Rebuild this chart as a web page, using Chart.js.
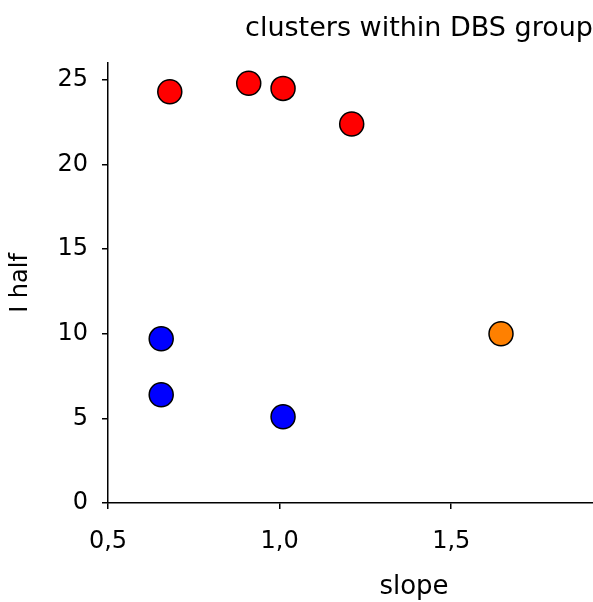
<!DOCTYPE html>
<html>
<head>
<meta charset="utf-8">
<script src="https://cdn.jsdelivr.net/npm/chart.js@4/dist/chart.umd.min.js"></script>
<style>
    body { margin: 0; background: #fff; }
    canvas { display: block; }
</style>
</head>
<body>
<canvas id="scatter" width="593" height="602"></canvas>
<script>
// clusters (slope, I half)
const redSlope = [0.68, 0.91, 1.01, 1.21];
const redHalf = [24.3, 24.8, 24.5, 22.4];
const blueSlope = [0.655, 0.655, 1.01];
const blueHalf = [9.7, 6.4, 5.1];
const orangeSlope = [1.645];
const orangeHalf = [10.0];

const xTicks = [0.5, 1.0, 1.5];
const yTicks = [0, 5, 10, 15, 20, 25];

const font = 'DejaVu Sans';

class clusterChart {

    constructor() {
        this.createGraph();
    }

    points(xs, ys) {
        return xs.map((x, i) => {
            return {x: x, y: ys[i]};
        });
    }

    dataset(xs, ys, color) {
        return {
            data: this.points(xs, ys),
            backgroundColor: color,
            borderColor: '#000',
            borderWidth: 1.5,
            pointRadius: 12,
            pointHoverRadius: 12
        };
    }

    createGraph() {
        let ctx = document.getElementById('scatter').getContext('2d');

        // x axis title sits right of the plot centre in the original
        const slopeLabel = {
            id: 'slopeLabel',
            afterDraw: (chart) => {
                let c = chart.ctx;
                c.save();
                c.font = '26px "' + font + '"';
                c.fillStyle = '#000';
                c.textAlign = 'center';
                c.textBaseline = 'middle';
                c.fillText('slope', 414, 587);
                c.restore();
            }
        };

        new Chart(ctx, {
            type: 'scatter',
            data: {
                datasets: [
                    this.dataset(redSlope, redHalf, '#ff0000'),
                    this.dataset(blueSlope, blueHalf, '#0000ff'),
                    this.dataset(orangeSlope, orangeHalf, '#ff8000')
                ]
            },
            options: {
                responsive: false,
                animation: false,
                layout: {padding: 0, autoPadding: false},
                plugins: {
                    legend: {display: false},
                    tooltip: {enabled: false},
                    title: {
                        display: true,
                        text: 'clusters within DBS group',
                        align: 'end',
                        color: '#000',
                        font: {family: font, size: 27, weight: 'normal', lineHeight: 1.2},
                        padding: {top: 13, bottom: 17.6}
                    }
                },
                scales: {
                    x: {
                        type: 'linear',
                        min: 0.5,
                        max: 1.913,
                        afterBuildTicks: (scale) => {
                            scale.ticks = xTicks.map((v) => ({value: v}));
                        },
                        afterFit: (scale) => {
                            scale.height = 99;
                            scale.paddingLeft = 0;
                            scale.paddingRight = 0;
                        },
                        border: {display: true, color: '#000', width: 1.5},
                        grid: {drawOnChartArea: false, drawTicks: true, tickLength: 6, color: '#000', lineWidth: 1.5},
                        ticks: {
                            color: '#000',
                            padding: 18,
                            font: {family: font, size: 24},
                            callback: (v) => v.toFixed(1).replace('.', ',')
                        }
                    },
                    y: {
                        type: 'linear',
                        min: 0,
                        max: 26,
                        afterBuildTicks: (scale) => {
                            scale.ticks = yTicks.map((v) => ({value: v}));
                        },
                        afterFit: (scale) => {
                            scale.width = 108;
                            scale.paddingTop = 0;
                            scale.paddingBottom = 0;
                        },
                        border: {display: true, color: '#000', width: 1.5},
                        grid: {drawOnChartArea: false, drawTicks: true, tickLength: 6, color: '#000', lineWidth: 1.5},
                        ticks: {
                            color: '#000',
                            padding: 14,
                            font: {family: font, size: 24}
                        },
                        title: {
                            display: true,
                            text: 'I half',
                            color: '#000',
                            font: {family: font, size: 24, lineHeight: 1.2},
                            padding: {top: 6, bottom: 0}
                        }
                    }
                }
            },
            plugins: [slopeLabel]
        });
    }
}

new clusterChart();
</script>
</body>
</html>
